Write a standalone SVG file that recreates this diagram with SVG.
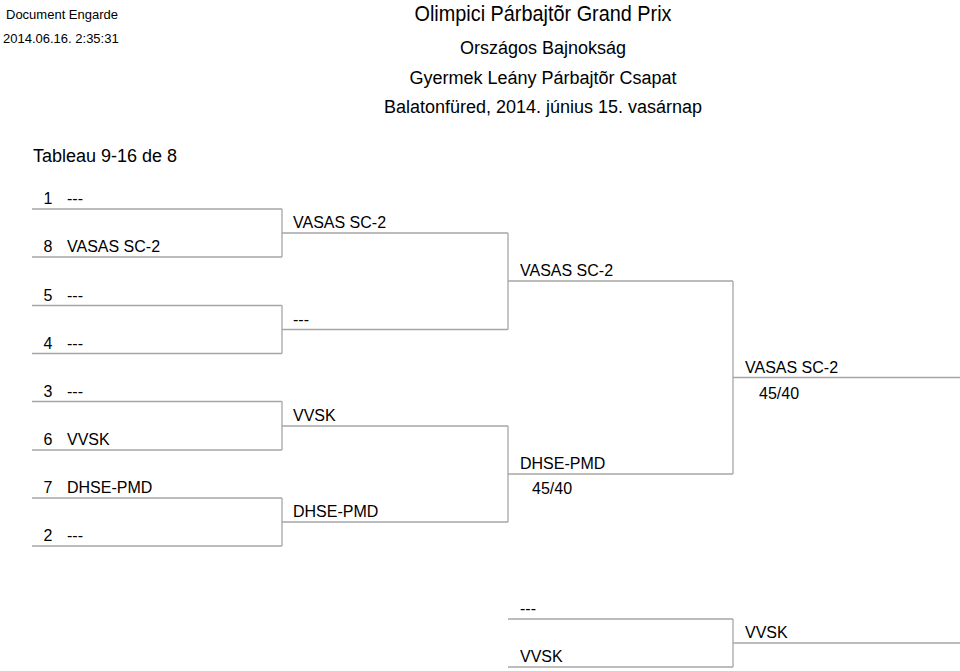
<svg xmlns="http://www.w3.org/2000/svg" width="960" height="671" viewBox="0 0 960 671">
<style>
text{font-family:"Liberation Sans",Arial,sans-serif;fill:#000}
.h{text-anchor:middle;font-size:18px}
.t{font-size:16px}
.s{font-size:13px}
.c line{stroke:#a6a6a6;stroke-width:1.3}
</style>
<rect width="960" height="671" fill="#fff"/>
<g id="header">
<text class="s" x="6" y="19">Document Engarde</text>
<text class="s" x="3" y="43">2014.06.16. 2:35:31</text>
<text class="h" x="543" y="20.5" style="font-size:21.5px" textLength="257" lengthAdjust="spacingAndGlyphs">Olimpici Párbajtõr Grand Prix</text>
<text class="h" x="543" y="54">Országos Bajnokság</text>
<text class="h" x="543" y="84">Gyermek Leány Párbajtõr Csapat</text>
<text class="h" x="543" y="113">Balatonfüred, 2014. június 15. vasárnap</text>
<text x="33" y="162" style="font-size:18px">Tableau 9-16 de 8</text>
</g>
<g id="connectors" class="c">
<line x1="32" y1="209" x2="282" y2="209"/>
<line x1="32" y1="257" x2="282" y2="257"/>
<line x1="32" y1="305.5" x2="282" y2="305.5"/>
<line x1="32" y1="353.5" x2="282" y2="353.5"/>
<line x1="32" y1="401.5" x2="282" y2="401.5"/>
<line x1="32" y1="450" x2="282" y2="450"/>
<line x1="32" y1="498" x2="282" y2="498"/>
<line x1="32" y1="546" x2="282" y2="546"/>
<line x1="282" y1="209" x2="282" y2="257"/>
<line x1="282" y1="305.5" x2="282" y2="353.5"/>
<line x1="282" y1="401.5" x2="282" y2="450"/>
<line x1="282" y1="498" x2="282" y2="546"/>
<line x1="282" y1="233" x2="508" y2="233"/>
<line x1="282" y1="329.5" x2="508" y2="329.5"/>
<line x1="282" y1="426" x2="508" y2="426"/>
<line x1="282" y1="522" x2="508" y2="522"/>
<line x1="508" y1="233" x2="508" y2="329.5"/>
<line x1="508" y1="426" x2="508" y2="522"/>
<line x1="508" y1="281" x2="733" y2="281"/>
<line x1="508" y1="474" x2="733" y2="474"/>
<line x1="733" y1="281" x2="733" y2="474"/>
<line x1="733" y1="377.5" x2="960" y2="377.5"/>
<line x1="508" y1="619" x2="733" y2="619"/>
<line x1="508" y1="667" x2="733" y2="667"/>
<line x1="733" y1="619" x2="733" y2="667"/>
<line x1="733" y1="643" x2="960" y2="643"/>
</g>
<g id="round1">
<g id="r1-1"><text class="t" x="43.5" y="204">1</text><text class="t" x="67" y="204">---</text></g>
<g id="r1-8"><text class="t" x="43.5" y="252">8</text><text class="t" x="67" y="252">VASAS SC-2</text></g>
<g id="r1-5"><text class="t" x="43.5" y="300.5">5</text><text class="t" x="67" y="300.5">---</text></g>
<g id="r1-4"><text class="t" x="43.5" y="348.5">4</text><text class="t" x="67" y="348.5">---</text></g>
<g id="r1-3"><text class="t" x="43.5" y="396.5">3</text><text class="t" x="67" y="396.5">---</text></g>
<g id="r1-6"><text class="t" x="43.5" y="445">6</text><text class="t" x="67" y="445">VVSK</text></g>
<g id="r1-7"><text class="t" x="43.5" y="493">7</text><text class="t" x="67" y="493">DHSE-PMD</text></g>
<g id="r1-2"><text class="t" x="43.5" y="541">2</text><text class="t" x="67" y="541">---</text></g>
</g>
<g id="round2">
<g id="r2-1"><text class="t" x="293" y="228">VASAS SC-2</text></g>
<g id="r2-2"><text class="t" x="293" y="324.5">---</text></g>
<g id="r2-3"><text class="t" x="293" y="421">VVSK</text></g>
<g id="r2-4"><text class="t" x="293" y="517">DHSE-PMD</text></g>
</g>
<g id="round3">
<g id="r3-1"><text class="t" x="520" y="276">VASAS SC-2</text></g>
<g id="r3-2"><text class="t" x="520" y="469">DHSE-PMD</text><text class="t" x="532" y="494">45/40</text></g>
</g>
<g id="final">
<text class="t" x="745" y="372.5">VASAS SC-2</text>
<text class="t" x="759" y="399">45/40</text>
</g>
<g id="third-place">
<g id="tp-1"><text class="t" x="520" y="614">---</text></g>
<g id="tp-2"><text class="t" x="520" y="662">VVSK</text></g>
<g id="tp-w"><text class="t" x="745" y="638">VVSK</text></g>
</g>
</svg>
